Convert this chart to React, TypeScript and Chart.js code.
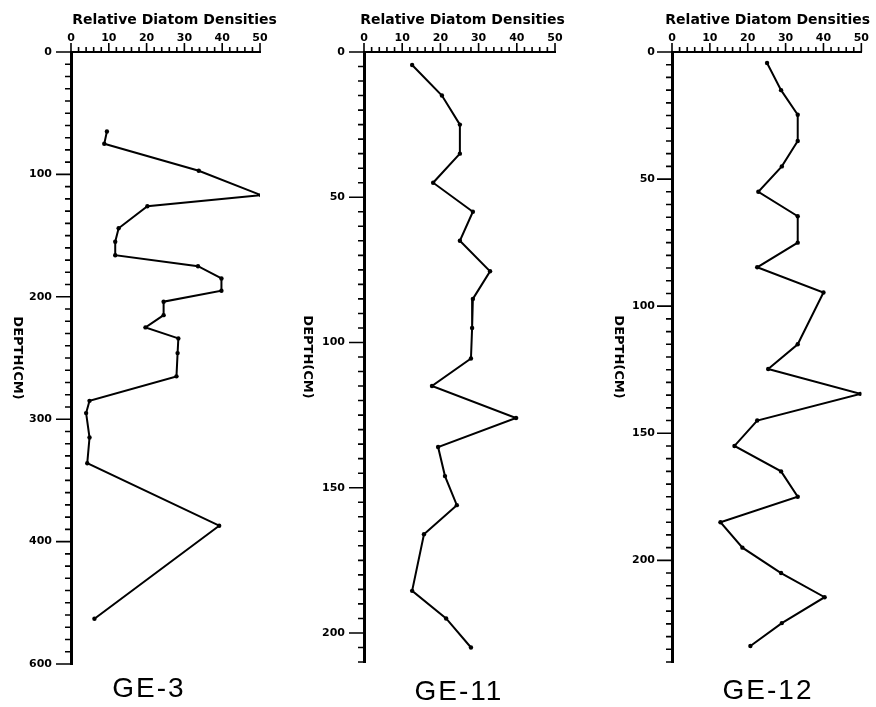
import React, { useEffect, useRef } from 'react';
import { Chart, registerables } from 'chart.js';

Chart.register(...registerables);

// ---- data ----
const X_TICK_LABELS = ['0', '10', '20', '30', '40', '50'];
const X_AXIS_TITLE = 'Relative Diatom Densities';
const Y_AXIS_TITLE = 'DEPTH(CM)';

const GE3_DEPTH = [65, 75, 97, 117, 126, 144, 155, 166, 175, 185, 195, 204, 215, 225, 234, 246, 265, 285, 295, 315, 336, 387, 463];
const GE3_DENSITY = [9.5, 8.8, 33.8, 50.3, 20.2, 12.6, 11.7, 11.7, 33.6, 39.8, 39.8, 24.5, 24.5, 19.7, 28.4, 28.2, 27.9, 4.9, 4.0, 4.9, 4.3, 39.2, 6.2];
const GE3_DEPTH_LABELS = ['0', '100', '200', '300', '400', '600'];

const GE11_DEPTH = [4.5, 15, 25, 35, 45, 55, 65, 75.5, 85, 95, 105.5, 115, 126, 136, 146, 156, 166, 185.5, 195, 205];
const GE11_DENSITY = [12.6, 20.4, 25.1, 25.1, 18.1, 28.5, 25.1, 33, 28.5, 28.3, 28, 17.8, 39.8, 19.4, 21.2, 24.3, 15.7, 12.6, 21.5, 28];
const GE11_DEPTH_LABELS = ['0', '50', '100', '150', '200'];

const GE12_DEPTH = [4.3, 15, 24.7, 35, 45, 55, 64.6, 75, 84.7, 94.6, 115, 124.7, 134.5, 145, 155, 165, 175, 185, 195, 205, 214.5, 224.7, 233.7];
const GE12_DENSITY = [25.1, 28.8, 33.2, 33.2, 29, 22.8, 33.2, 33.2, 22.5, 40, 33.2, 25.4, 49.7, 22.5, 16.5, 28.8, 33.2, 12.8, 18.6, 28.8, 40.3, 29, 20.7];
const GE12_DEPTH_LABELS = ['0', '50', '100', '150', '200'];

// ---- layout (positions / sizes) ----
const PANELS = [
  { name: 'GE-3', depth: GE3_DEPTH, density: GE3_DENSITY, labels: GE3_DEPTH_LABELS, max: 500, major: 100, minor: 10,
    left: 0, width: 290, yAxisWidth: 71, rightPad: 30, bottomPad: 43, yLabelPad: 19, titleX: 17, nameX: 148, nameY: 689, xTitleShift: 9 },
  { name: 'GE-11', depth: GE11_DEPTH, density: GE11_DENSITY, labels: GE11_DEPTH_LABELS, max: 210, major: 50, minor: 5,
    left: 290, width: 300, yAxisWidth: 74, rightPad: 35, bottomPad: 45, yLabelPad: 19, titleX: 17, nameX: 168, nameY: 692, xTitleShift: 3 },
  { name: 'GE-12', depth: GE12_DEPTH, density: GE12_DENSITY, labels: GE12_DEPTH_LABELS, max: 240, major: 50, minor: 5,
    left: 590, width: 286, yAxisWidth: 82, rightPad: 13, bottomPad: 45, yLabelPad: 17, titleX: 28, nameX: 177, nameY: 691, xTitleShift: 1 },
];

const H = 707;
const FONT = '"DejaVu Sans", "Liberation Sans", Arial, sans-serif';
const NAME_FONT = '"Liberation Sans", Arial, sans-serif';

const decor = {
  id: 'decor',
  afterDraw(chart: any, _args: any, opts: any) {
    const { ctx, chartArea } = chart;
    const x = chart.scales.x;
    const y = chart.scales.y;
    ctx.save();
    ctx.strokeStyle = '#000';
    ctx.lineWidth = 1.6;
    ctx.beginPath();
    for (let i = 0; i <= 25; i++) {
      const v = i * 2;
      const px = x.getPixelForValue(v);
      const len = v % 10 === 0 ? 9 : 5;
      ctx.moveTo(px, chartArea.top);
      ctx.lineTo(px, chartArea.top - len);
    }
    const n = Math.round(opts.max / opts.minor);
    for (let i = 0; i <= n; i++) {
      const v = i * opts.minor;
      const py = y.getPixelForValue(v);
      const len = v % opts.major === 0 ? 15 : 6;
      ctx.moveTo(chartArea.left, py);
      ctx.lineTo(chartArea.left - len, py);
    }
    ctx.stroke();

    ctx.fillStyle = '#000';
    ctx.textAlign = 'center';
    ctx.textBaseline = 'middle';

    // top axis title
    ctx.font = 'bold 14px ' + FONT;
    ctx.fillText(X_AXIS_TITLE, (chartArea.left + chartArea.right) / 2 + opts.xTitleShift, 20);

    // left axis title (rotated clockwise)
    ctx.save();
    ctx.translate(opts.titleX, (chartArea.top + chartArea.bottom) / 2);
    ctx.rotate(Math.PI / 2);
    ctx.font = 'bold 13px ' + FONT;
    ctx.fillText(Y_AXIS_TITLE, 0, 0);
    ctx.restore();

    // core name
    ctx.font = '28px ' + NAME_FONT;
    (ctx as any).letterSpacing = '2px';
    ctx.fillText(opts.name, opts.nameX + 1, opts.nameY);
    ctx.restore();
  },
};

function Panel({ p }: { p: any }) {
  const ref = useRef<HTMLCanvasElement | null>(null);
  useEffect(() => {
    if (!ref.current) return;
    const data = p.depth.map((d: number, i: number) => ({ x: p.density[i], y: d }));
    const chart = new Chart(ref.current, {
      type: 'line',
      data: {
        datasets: [{
          data,
          borderColor: '#000',
          backgroundColor: '#000',
          borderWidth: 2,
          pointRadius: 2.2,
          pointBorderWidth: 0,
          tension: 0,
          fill: false,
        }],
      },
      options: {
        responsive: false,
        animation: false,
        layout: { padding: { left: 0, right: p.rightPad, top: 0, bottom: p.bottomPad } },
        plugins: {
          legend: { display: false },
          tooltip: { enabled: false },
          decor: { max: p.max, major: p.major, minor: p.minor, titleX: p.titleX, name: p.name, nameX: p.nameX, nameY: p.nameY, xTitleShift: p.xTitleShift },
        } as any,
        scales: {
          x: {
            type: 'linear',
            position: 'top',
            min: 0,
            max: 50,
            grid: { display: false, drawTicks: false },
            border: { display: true, color: '#000', width: 2 },
            ticks: {
              stepSize: 10,
              padding: 7,
              color: '#000',
              font: { family: FONT, size: 11, weight: 'bold' },
              autoSkip: false,
              maxRotation: 0,
              callback: (v: any) => X_TICK_LABELS[Math.round(Number(v) / 10)],
            },
            title: { display: false },
            afterFit: (s: any) => { s.height = 52; },
          },
          y: {
            type: 'linear',
            reverse: true,
            min: 0,
            max: p.max,
            grid: { display: false, drawTicks: false },
            border: { display: true, color: '#000', width: 3 },
            ticks: {
              stepSize: p.major,
              padding: p.yLabelPad,
              color: '#000',
              font: { family: FONT, size: 11, weight: 'bold' },
              autoSkip: false,
              callback: (v: any) => {
                const num = Number(v);
                if (num % p.major !== 0) return '';
                return p.labels[Math.round(num / p.major)] ?? '';
              },
            },
            afterFit: (s: any) => { s.width = p.yAxisWidth; },
          },
        },
      } as any,
      plugins: [decor],
    });
    return () => chart.destroy();
  }, [p]);
  return (
    <canvas
      ref={ref}
      width={p.width}
      height={H}
      style={{ position: 'absolute', left: p.left, top: 0, width: p.width, height: H }}
    />
  );
}

export default function App() {
  return (
    <div style={{ position: 'absolute', left: 0, top: 0, width: 876, height: H, background: '#fff' }}>
      {PANELS.map((p) => <Panel key={p.name} p={p} />)}
    </div>
  );
}
